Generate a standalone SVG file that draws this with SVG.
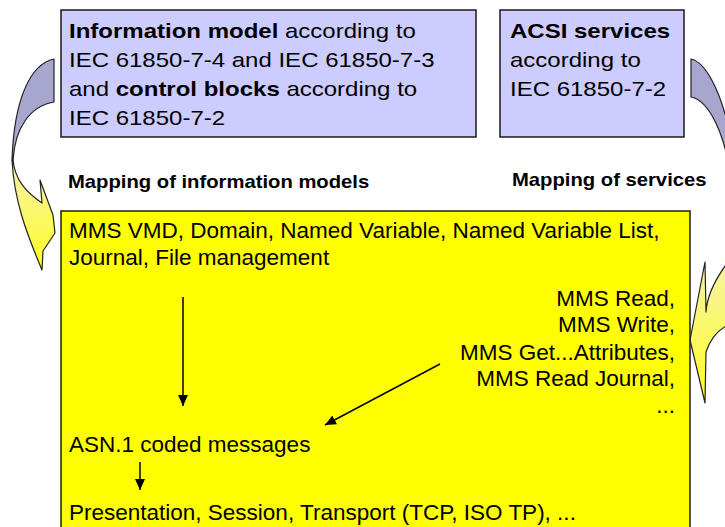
<svg xmlns="http://www.w3.org/2000/svg" width="725" height="527" viewBox="0 0 725 527">
<style>
.box{stroke:#1a1a1a;stroke-width:1.5}
.blue{fill:#ccccff}
.yel{fill:#ffff00}
.t{font-family:"Liberation Sans",Arial,sans-serif;fill:#000}
.bt{font-size:21px}
.yt{font-size:22.5px}
.mp{font-size:18px;font-weight:bold}
.b{font-weight:bold}
.cv{stroke:#222;stroke-width:1.2;stroke-linejoin:round}
.ln{stroke:#000;stroke-width:1.5;fill:none}
</style>
<defs>
<marker id="ah" markerUnits="userSpaceOnUse" markerWidth="12" markerHeight="12" viewBox="0 0 12 12" refX="11" refY="6" orient="auto">
<path d="M0,1 L11,6 L0,11 Z" fill="#000"/>
</marker>
<linearGradient id="gl" gradientUnits="userSpaceOnUse" x1="0" y1="160" x2="0" y2="270">
<stop offset="0" stop-color="#f4f0b0"/>
<stop offset="1" stop-color="#ffff20"/>
</linearGradient>
<linearGradient id="gr" gradientUnits="userSpaceOnUse" x1="0" y1="262" x2="0" y2="403">
<stop offset="0" stop-color="#f6f2a8"/>
<stop offset="1" stop-color="#ffff20"/>
</linearGradient>
</defs>

<g id="leftArrow">
<path class="cv" fill="#a6a6cf" d="M54,59 C30,64 14,100 12,160 L13,160 C15,128 30,106 54,102 Z"/>
<path class="cv" fill="url(#gl)" d="M12,160 C14,200 26,232 42,270 L43,251 L55,233 L53,215 L40,180 L42,203 C26,192 15,180 13,160 Z"/>
</g>

<g id="rightArrow">
<path class="cv" fill="#a6a6cf" d="M691,59 C705,62 719,88 728,125 L728,160 C720,125 707,100 691,97 Z"/>
<path class="cv" fill="url(#gr)" d="M728,262 C716,278 707,295 706,312 L705,262 L690,340 L705,403 L706,352 C710,340 718,330 728,325 Z"/>
</g>

<g id="infoModel">
<rect class="box blue" x="61" y="10" width="415" height="127"/>
<g transform="translate(69,0) scale(1.143,1)">
<text class="t bt" x="0" y="38"><tspan class="b">Information model</tspan> according to</text>
<text class="t bt" x="0" y="67">IEC 61850-7-4 and IEC 61850-7-3</text>
<text class="t bt" x="0" y="96">and <tspan class="b">control blocks</tspan> according to</text>
<text class="t bt" x="0" y="125">IEC 61850-7-2</text>
</g>
</g>

<g id="acsi">
<rect class="box blue" x="500" y="10" width="184" height="127"/>
<g transform="translate(510,0) scale(1.143,1)">
<text class="t bt b" x="0" y="38">ACSI services</text>
<text class="t bt" x="0" y="67">according to</text>
<text class="t bt" x="0" y="96">IEC 61850-7-2</text>
</g>
</g>

<g id="labelInfo">
<text class="t mp" transform="translate(68,0) scale(1.125,1)" x="0" y="188">Mapping of information models</text>
</g>
<g id="labelServices">
<text class="t mp" transform="translate(512,0) scale(1.125,1)" x="0" y="186">Mapping of services</text>
</g>

<g id="mms">
<rect class="box yel" x="61" y="211" width="629" height="330"/>
<text class="t yt" x="69" y="238">MMS VMD, Domain, Named Variable, Named Variable List,</text>
<text class="t yt" x="69" y="265">Journal, File management</text>
<text class="t yt" x="675" y="306" text-anchor="end">MMS Read,</text>
<text class="t yt" x="675" y="332" text-anchor="end">MMS Write,</text>
<text class="t yt" x="675" y="360" text-anchor="end">MMS Get...Attributes,</text>
<text class="t yt" x="675" y="386" text-anchor="end">MMS Read Journal,</text>
<text class="t yt" x="675" y="413" text-anchor="end">...</text>
<text class="t yt" x="69" y="452">ASN.1 coded messages</text>
<text class="t yt" x="69" y="520">Presentation, Session, Transport (TCP, ISO TP), ...</text>
</g>

<g id="connectors">
<line class="ln" x1="183" y1="297" x2="183" y2="406" marker-end="url(#ah)"/>
<line class="ln" x1="440" y1="364" x2="325" y2="425" marker-end="url(#ah)"/>
<line class="ln" x1="140" y1="462" x2="140" y2="490" marker-end="url(#ah)"/>
</g>
</svg>
